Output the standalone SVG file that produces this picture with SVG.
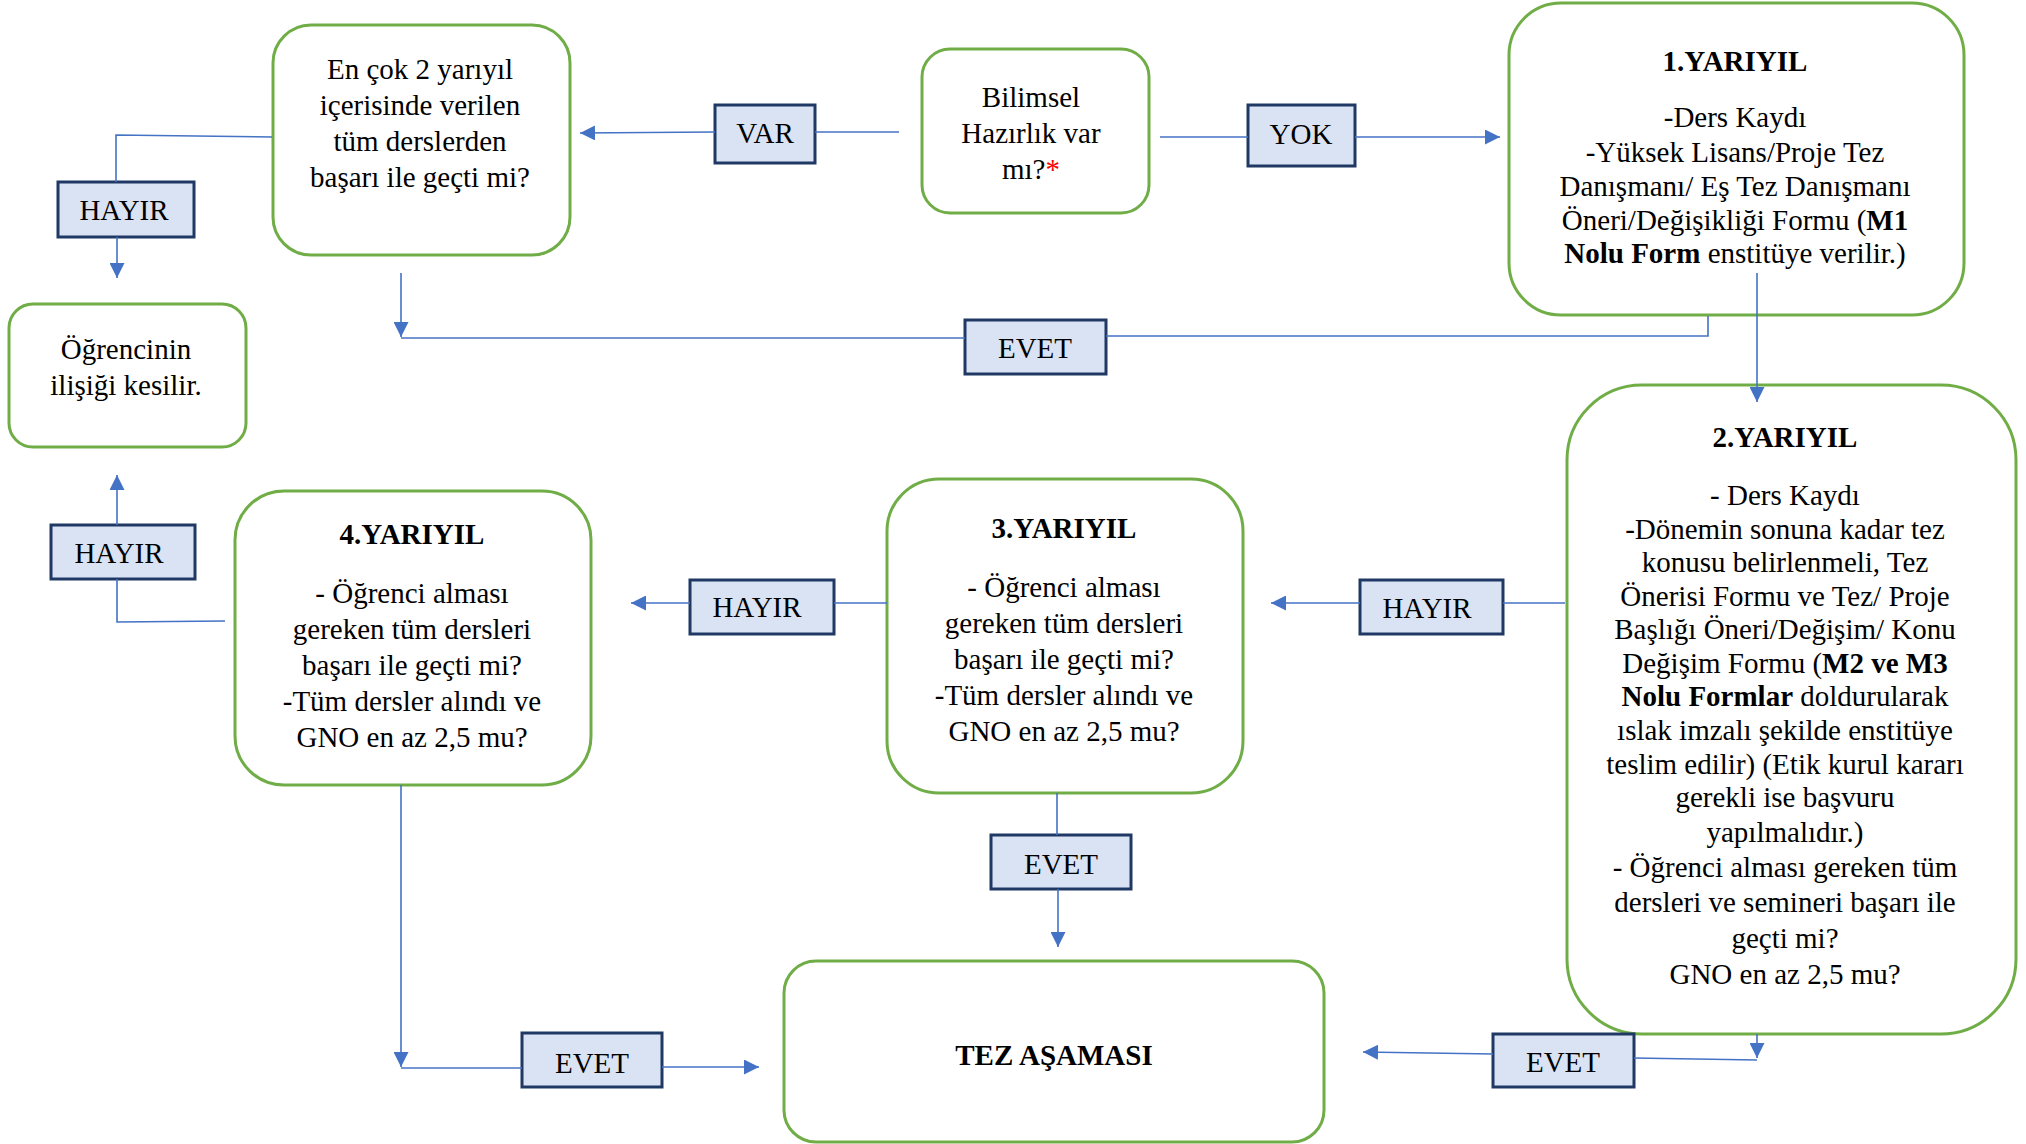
<svg xmlns="http://www.w3.org/2000/svg" width="2026" height="1144" viewBox="0 0 2026 1144">
<defs>
<style>
.node{fill:#fff;stroke:#70AD47;stroke-width:3}
.lab{fill:#DAE3F3;stroke:#1F3864;stroke-width:3}
.t{font-family:"Liberation Serif","Times New Roman",serif;font-size:29px;fill:#000;text-anchor:middle}
.b{font-weight:bold}
.c{fill:none;stroke:#4472C4;stroke-width:1.6}
.a{marker-end:url(#arr)}
</style>
<marker id="arr" viewBox="0 0 10 10" refX="10" refY="5" markerWidth="15" markerHeight="15" markerUnits="userSpaceOnUse" orient="auto">
<path d="M0,0 L10,5 L0,10 z" fill="#4472C4"/>
</marker>
</defs>
<rect width="2026" height="1144" fill="#fff"/>

<g id="n-encok">
<rect class="node" x="273" y="25" width="297" height="230" rx="38"/>
<text class="t" x="420"><tspan x="420" y="79">En çok 2 yarıyıl</tspan><tspan x="420" y="115">içerisinde verilen</tspan><tspan x="420" y="151">tüm derslerden</tspan><tspan x="420" y="187">başarı ile geçti mi?</tspan></text>
</g>
<g id="n-bilimsel">
<rect class="node" x="922" y="49" width="227" height="164" rx="28"/>
<text class="t" x="1031"><tspan x="1031" y="107">Bilimsel</tspan><tspan x="1031" y="143">Hazırlık var</tspan><tspan x="1031" y="179">mı?<tspan fill="#FF0000">*</tspan></tspan></text>
</g>
<g id="n-y1">
<rect class="node" x="1509" y="3" width="455" height="312" rx="52"/>
<text class="t b" x="1735" y="71">1.YARIYIL</text>
<text class="t" x="1735"><tspan x="1735" y="127">-Ders Kaydı</tspan><tspan x="1735" y="162">-Yüksek Lisans/Proje Tez</tspan><tspan x="1735" y="196">Danışmanı/ Eş Tez Danışmanı</tspan><tspan x="1735" y="230">Öneri/Değişikliği Formu (<tspan class="b">M1</tspan></tspan><tspan x="1735" y="263"><tspan class="b">Nolu Form</tspan> enstitüye verilir.)</tspan></text>
</g>
<g id="n-ogrenci">
<rect class="node" x="9" y="304" width="237" height="143" rx="24"/>
<text class="t" x="126"><tspan x="126" y="359">Öğrencinin</tspan><tspan x="126" y="395">ilişiği kesilir.</tspan></text>
</g>
<g id="n-y2">
<rect class="node" x="1567" y="385" width="449" height="649" rx="75"/>
<text class="t b" x="1785" y="447">2.YARIYIL</text>
<text class="t" x="1785"><tspan x="1785" y="505">- Ders Kaydı</tspan><tspan x="1785" y="539">-Dönemin sonuna kadar tez</tspan><tspan x="1785" y="572">konusu belirlenmeli, Tez</tspan><tspan x="1785" y="606">Önerisi Formu ve Tez/ Proje</tspan><tspan x="1785" y="639">Başlığı Öneri/Değişim/ Konu</tspan><tspan x="1785" y="673">Değişim Formu (<tspan class="b">M2 ve M3</tspan></tspan><tspan x="1785" y="706"><tspan class="b">Nolu Formlar</tspan> doldurularak</tspan><tspan x="1785" y="740">ıslak imzalı şekilde enstitüye</tspan><tspan x="1785" y="774">teslim edilir) (Etik kurul kararı</tspan><tspan x="1785" y="807">gerekli ise başvuru</tspan><tspan x="1785" y="842">yapılmalıdır.)</tspan><tspan x="1785" y="877">- Öğrenci alması gereken tüm</tspan><tspan x="1785" y="912">dersleri ve semineri başarı ile</tspan><tspan x="1785" y="948">geçti mi?</tspan><tspan x="1785" y="984">GNO en az 2,5 mu?</tspan></text>
</g>
<g id="n-y4">
<rect class="node" x="235" y="491" width="356" height="294" rx="49"/>
<text class="t b" x="412" y="544">4.YARIYIL</text>
<text class="t" x="412"><tspan x="412" y="603">- Öğrenci alması</tspan><tspan x="412" y="639">gereken tüm dersleri</tspan><tspan x="412" y="675">başarı ile geçti mi?</tspan><tspan x="412" y="711">-Tüm dersler alındı ve</tspan><tspan x="412" y="747">GNO en az 2,5 mu?</tspan></text>
</g>
<g id="n-y3">
<rect class="node" x="887" y="479" width="356" height="314" rx="52"/>
<text class="t b" x="1064" y="538">3.YARIYIL</text>
<text class="t" x="1064"><tspan x="1064" y="597">- Öğrenci alması</tspan><tspan x="1064" y="633">gereken tüm dersleri</tspan><tspan x="1064" y="669">başarı ile geçti mi?</tspan><tspan x="1064" y="705">-Tüm dersler alındı ve</tspan><tspan x="1064" y="741">GNO en az 2,5 mu?</tspan></text>
</g>
<g id="n-tez">
<rect class="node" x="784" y="961" width="540" height="181" rx="32"/>
<text class="t b" x="1054" y="1065">TEZ AŞAMASI</text>
</g>

<g id="labels">
<g id="l-hayir1"><rect class="lab" x="58" y="182" width="136" height="55"/><text class="t" x="124" y="220">HAYIR</text></g>
<g id="l-var"><rect class="lab" x="715" y="105" width="100" height="58"/><text class="t" x="765" y="143">VAR</text></g>
<g id="l-yok"><rect class="lab" x="1248" y="105" width="107" height="61"/><text class="t" x="1301" y="144">YOK</text></g>
<g id="l-evet1"><rect class="lab" x="965" y="320" width="141" height="54"/><text class="t" x="1035" y="358">EVET</text></g>
<g id="l-hayir2"><rect class="lab" x="51" y="525" width="144" height="54"/><text class="t" x="119" y="563">HAYIR</text></g>
<g id="l-hayir3"><rect class="lab" x="690" y="580" width="144" height="54"/><text class="t" x="757" y="617">HAYIR</text></g>
<g id="l-hayir4"><rect class="lab" x="1360" y="580" width="143" height="54"/><text class="t" x="1427" y="618">HAYIR</text></g>
<g id="l-evet2"><rect class="lab" x="991" y="835" width="140" height="54"/><text class="t" x="1061" y="874">EVET</text></g>
<g id="l-evet3"><rect class="lab" x="522" y="1033" width="140" height="54"/><text class="t" x="592" y="1073">EVET</text></g>
<g id="l-evet4"><rect class="lab" x="1493" y="1034" width="141" height="53"/><text class="t" x="1563" y="1072">EVET</text></g>
</g>

<g id="connectors">
<path class="c" d="M899,132 L815,132"/>
<path class="c a" d="M715,132 L580,133"/>
<path class="c" d="M1160,137 L1248,137"/>
<path class="c a" d="M1355,137 L1500,137"/>
<path class="c" d="M272,137 L116,135 L116,182"/>
<path class="c a" d="M117,237 L117,278"/>
<path class="c a" d="M401,273 L401,337"/>
<path class="c" d="M401,338 L965,338"/>
<path class="c" d="M1106,336 L1708,336 L1708,316"/>
<path class="c a" d="M1757,273 L1757,402"/>
<path class="c" d="M1565,603 L1503,603"/>
<path class="c a" d="M1360,603 L1271,603"/>
<path class="c" d="M887,603 L834,603"/>
<path class="c a" d="M690,603 L631,603"/>
<path class="c" d="M225,621 L117,622 L117,579"/>
<path class="c a" d="M117,525 L117,475"/>
<path class="c a" d="M401,785 L401,1067"/>
<path class="c" d="M401,1068 L522,1068"/>
<path class="c a" d="M662,1067 L759,1067"/>
<path class="c" d="M1057,793 L1057,835"/>
<path class="c a" d="M1058,889 L1058,947"/>
<path class="c a" d="M1757,1034 L1757,1058"/>
<path class="c" d="M1757,1060 L1634,1058"/>
<path class="c a" d="M1493,1054 L1363,1052"/>
</g>
</svg>
